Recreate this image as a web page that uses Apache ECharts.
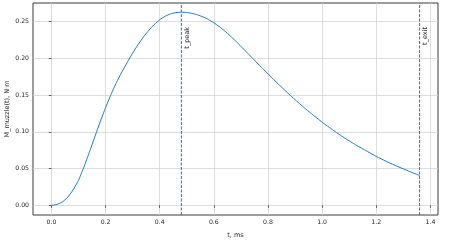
<!DOCTYPE html>
<html>
<head>
<meta charset="utf-8">
<script src="https://cdn.jsdelivr.net/npm/echarts@6/dist/echarts.min.js"></script>
<style>html,body{margin:0;padding:0;background:#fff;}#c{width:464px;height:241px;}</style>
</head>
<body>
<div id="c"></div>
<script>
// Data
var tValues = [0.00, 0.02, 0.04, 0.06, 0.08, 0.10, 0.12, 0.14, 0.16, 0.18, 0.20, 0.22, 0.24, 0.26, 0.28, 0.30, 0.32, 0.34, 0.36, 0.38, 0.40, 0.42, 0.44, 0.46, 0.48, 0.50, 0.52, 0.54, 0.56, 0.58, 0.60, 0.62, 0.64, 0.66, 0.68, 0.70, 0.72, 0.74, 0.76, 0.78, 0.80, 0.84, 0.88, 0.92, 0.96, 1.00, 1.04, 1.08, 1.12, 1.16, 1.20, 1.24, 1.28, 1.32, 1.36];
var mValues = [0.000, 0.0012, 0.0045, 0.011, 0.021, 0.034, 0.052, 0.072, 0.0928, 0.1134, 0.1328, 0.1506, 0.1668, 0.181, 0.1942, 0.2068, 0.2184, 0.2288, 0.238, 0.2458, 0.2522, 0.257, 0.2602, 0.262, 0.2625, 0.2621, 0.2609, 0.2589, 0.2561, 0.2525, 0.2481, 0.2429, 0.237, 0.2305, 0.2235, 0.2162, 0.2086, 0.201, 0.1935, 0.186, 0.1787, 0.1642, 0.1503, 0.1371, 0.1247, 0.1131, 0.1023, 0.0923, 0.0831, 0.0747, 0.0665, 0.0593, 0.0527, 0.0465, 0.0405];
var xTicks = [0.0, 0.2, 0.4, 0.6, 0.8, 1.0, 1.2, 1.4];
var yTicks = [0.00, 0.05, 0.10, 0.15, 0.20, 0.25];
var markerNames = ['t_peak', 't_exit'];
var markerTimes = [0.48, 1.36];

var Y_MIN = -0.0131, Y_MAX = 0.275;
var points = tValues.map(function (t, i) { return [t, mValues[i]]; });
var txt = '#262626';
var font = 'DejaVu Sans';
var blue = '#1f77b4';

var series = [{
  type: 'line', data: points, showSymbol: false, smooth: 0.15, z: 3,
  itemStyle: {color: blue},
  lineStyle: {color: blue, width: 1},
  markLine: {
    silent: true, symbol: 'none',
    lineStyle: {color: 'rgba(0,0,0,0)', width: 1},
    label: {show: true, position: 'insideEndBottom', fontFamily: font, fontSize: 6.5, color: txt, distance: [24, 2],
      formatter: function (p) { return p.name; }},
    data: markerNames.map(function (n, i) { return {name: n, xAxis: markerTimes[i]}; })
  }
}];
markerTimes.forEach(function (t) {
  series.push({
    type: 'line', data: [[t, Y_MIN], [t, Y_MAX]], showSymbol: false, symbol: 'none', silent: true, z: 2,
    itemStyle: {color: blue},
    lineStyle: {color: blue, type: [3, 1.5], width: 1}
  });
});

var chart = echarts.init(document.getElementById('c'), null, {renderer: 'canvas'});
chart.setOption({
  animation: false,
  grid: {left: 33, right: 26, top: 3, bottom: 26, containLabel: false, outerBoundsMode: 'none',
    show: true, borderColor: '#3a3a3a', borderWidth: 1, backgroundColor: 'transparent'},
  xAxis: {
    type: 'value', min: -0.068, max: 1.428,
    name: 't, ms', nameLocation: 'middle', nameGap: 17, nameMoveOverlap: false,
    nameTextStyle: {fontFamily: font, fontSize: 6.5, color: txt},
    axisLine: {show: false},
    axisTick: {show: true, customValues: xTicks, length: 2.5, lineStyle: {color: '#3a3a3a', width: 0.8}},
    axisLabel: {customValues: xTicks, fontFamily: font, fontSize: 6.2, color: txt, margin: 4,
      formatter: function (v) { return v.toFixed(1); }},
    splitLine: {show: true, lineStyle: {color: '#d4d4d4', width: 0.8}}
  },
  yAxis: {
    type: 'value', min: Y_MIN, max: Y_MAX,
    name: 'M_muzzle(t), N·m', nameLocation: 'middle', nameGap: 22, nameMoveOverlap: false,
    nameTextStyle: {fontFamily: font, fontSize: 6.5, color: txt},
    axisLine: {show: false},
    axisTick: {show: true, customValues: yTicks, length: 2.5, lineStyle: {color: '#3a3a3a', width: 0.8}},
    axisLabel: {customValues: yTicks, fontFamily: font, fontSize: 6.2, color: txt, margin: 4,
      formatter: function (v) { return v.toFixed(2); }},
    splitLine: {show: true, lineStyle: {color: '#d4d4d4', width: 0.8}}
  },
  series: series
});
</script>
</body>
</html>
